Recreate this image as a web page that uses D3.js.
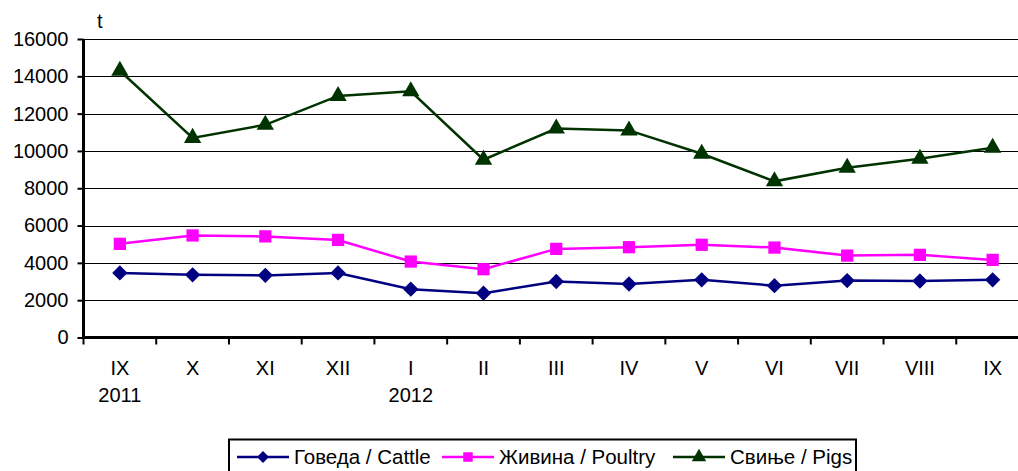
<!DOCTYPE html>
<html>
<head>
<meta charset="utf-8">
<script src="https://cdnjs.cloudflare.com/ajax/libs/d3/7.8.5/d3.min.js"></script>
<style>
  body { margin: 0; background: #fff; }
  text { font-family: "Liberation Sans", Arial, sans-serif; fill: #000; }
</style>
</head>
<body>
<script>
// data
var months = ["IX", "X", "XI", "XII", "I", "II", "III", "IV", "V", "VI", "VII", "VIII", "IX"];
var years = ["2011", "", "", "", "2012", "", "", "", "", "", "", "", ""];
var cattle = [3460, 3360, 3330, 3460, 2590, 2370, 3000, 2870, 3090, 2780, 3050, 3030, 3090];
var poultry = [5020, 5470, 5420, 5230, 4070, 3660, 4750, 4840, 4970, 4820, 4390, 4430, 4160];
var pigs = [14300, 10700, 11400, 12950, 13200, 9530, 11200, 11100, 9850, 8370, 9100, 9580, 10170];
var yTicks = [0, 2000, 4000, 6000, 8000, 10000, 12000, 14000, 16000];

var series = [
  {name: "Говеда / Cattle", values: cattle, color: "#000080", marker: "diamond"},
  {name: "Живина / Poultry", values: poultry, color: "#ff00ff", marker: "square"},
  {name: "Свиње / Pigs", values: pigs, color: "#003300", marker: "triangle"}
];

var W = 1018, H = 471;
var margin = {left: 83.5, top: 39, right: -11, bottom: 133.5};

var svg = d3.select("body").append("svg")
  .attr("width", W).attr("height", H);

var x = d3.scaleBand()
  .domain(d3.range(months.length))
  .range([margin.left, W - margin.right]);

var y = d3.scaleLinear()
  .domain([0, 16000])
  .range([H - margin.bottom, margin.top]);

// gridlines
svg.append("g").selectAll("line")
  .data(yTicks.slice(1))
  .enter().append("line")
  .attr("x1", margin.left).attr("x2", W - margin.right)
  .attr("y1", function(d) { return Math.round(y(d)) + 0.5; })
  .attr("y2", function(d) { return Math.round(y(d)) + 0.5; })
  .attr("stroke", "#000").attr("stroke-width", 1);

// y axis
var yAxis = svg.append("g")
  .attr("transform", "translate(" + margin.left + ",0)")
  .call(d3.axisLeft(y).tickValues(yTicks).tickSize(6).tickPadding(9).tickFormat(d3.format("d")));
yAxis.select(".domain").attr("stroke-width", 3).attr("d", "M0," + (y(0) + 1) + "V" + y(16000));
yAxis.selectAll(".tick line").attr("stroke-width", 2);
yAxis.selectAll("text").style("font-size", "20px").attr("font-family", null);

// x axis
var xAxis = svg.append("g")
  .attr("transform", "translate(0," + y(0) + ")");
xAxis.append("line")
  .attr("x1", margin.left - 1.5).attr("x2", W)
  .attr("stroke", "#000").attr("stroke-width", 3);
xAxis.selectAll(".tk")
  .data(d3.range(months.length + 1))
  .enter().append("line")
  .attr("x1", function(d) { return x.step() * d + margin.left; })
  .attr("x2", function(d) { return x.step() * d + margin.left; })
  .attr("y1", 0).attr("y2", 7)
  .attr("stroke", "#000").attr("stroke-width", 2);
xAxis.selectAll(".m")
  .data(months)
  .enter().append("text")
  .attr("x", function(d, i) { return x(i) + x.bandwidth() / 2; })
  .attr("y", 37)
  .attr("text-anchor", "middle")
  .style("font-size", "20px")
  .text(function(d) { return d; });
xAxis.selectAll(".yr")
  .data(years)
  .enter().append("text")
  .attr("x", function(d, i) { return x(i) + x.bandwidth() / 2; })
  .attr("y", 64)
  .attr("text-anchor", "middle")
  .style("font-size", "20px")
  .text(function(d) { return d; });

// unit label
svg.append("text")
  .attr("x", 97).attr("y", 28)
  .style("font-size", "20px")
  .text("t");

var symbols = {
  diamond: d3.symbol().type(d3.symbolDiamond2).size(150),
  square: d3.symbol().type(d3.symbolSquare).size(150),
  triangle: d3.symbol().type(d3.symbolTriangle).size(130)
};

var line = d3.line()
  .x(function(d, i) { return x(i) + x.bandwidth() / 2; })
  .y(function(d) { return y(d); });

series.forEach(function(s) {
  svg.append("path")
    .datum(s.values)
    .attr("fill", "none")
    .attr("stroke", s.color)
    .attr("stroke-width", 2.5)
    .attr("d", line);
  svg.append("g").selectAll("path")
    .data(s.values)
    .enter().append("path")
    .attr("transform", function(d, i) { return "translate(" + (x(i) + x.bandwidth() / 2) + "," + y(d) + ")"; })
    .attr("d", symbols[s.marker])
    .attr("fill", s.color);
});

// legend
var legend = svg.append("g");
legend.append("rect")
  .attr("x", 229).attr("y", 439.5)
  .attr("width", 627).attr("height", 40)
  .attr("fill", "#fff").attr("stroke", "#000").attr("stroke-width", 2);

var legX = [237, 442, 673];
series.forEach(function(s, i) {
  var g = legend.append("g").attr("transform", "translate(" + legX[i] + ",457)");
  g.append("line").attr("x1", 0).attr("x2", 52)
    .attr("stroke", s.color).attr("stroke-width", 2.5);
  g.append("path")
    .attr("transform", "translate(26,0)")
    .attr("d", d3.symbol().type(s.marker == "diamond" ? d3.symbolDiamond2 : s.marker == "square" ? d3.symbolSquare : d3.symbolTriangle).size(90))
    .attr("fill", s.color);
  g.append("text")
    .attr("x", 57).attr("y", 7)
    .style("font-size", "20.5px")
    .text(s.name);
});
</script>
</body>
</html>
